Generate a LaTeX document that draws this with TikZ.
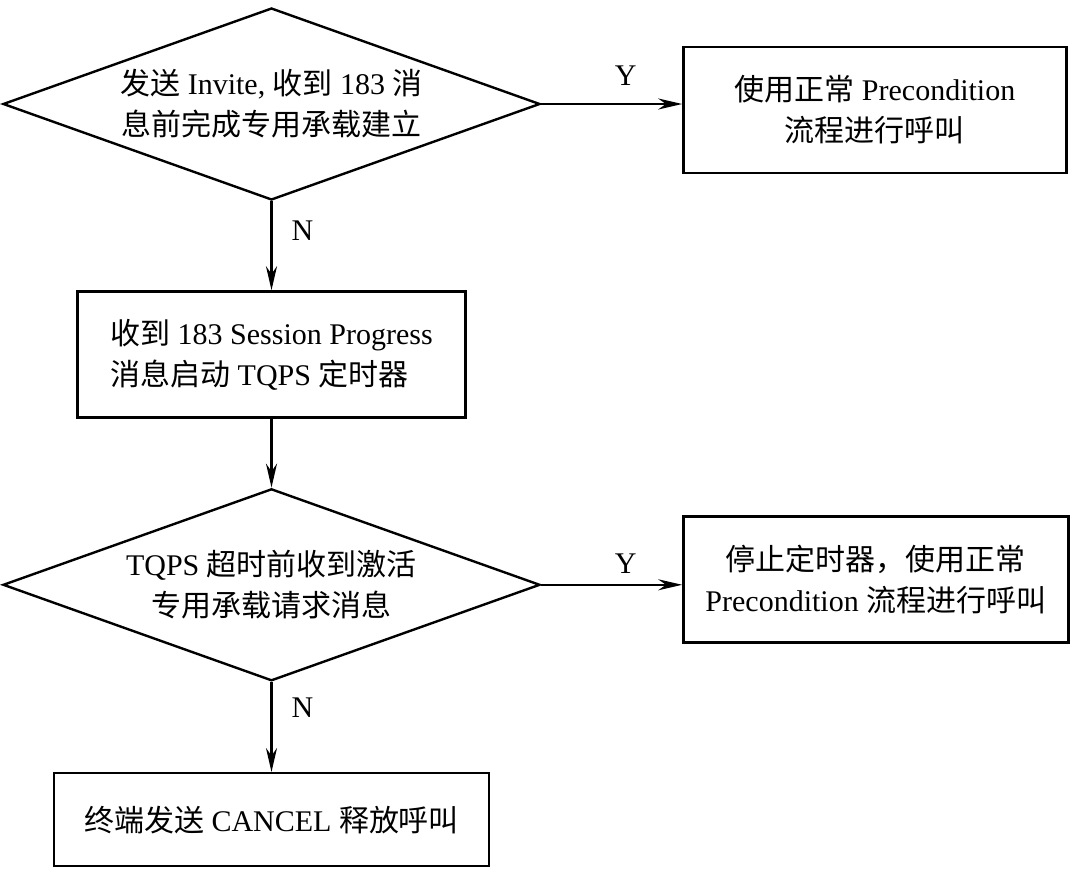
\documentclass[tikz,border=0pt]{standalone}
\usepackage{fontspec}
\setmainfont{Liberation Serif}
\newfontfamily\zhfont{Noto Sans CJK SC}
\newcommand{\zh}[1]{{\zhfont #1}}
\usetikzlibrary{shapes.geometric,arrows.meta,positioning}

\begin{document}
\begin{tikzpicture}[
    x=0.5pt, y=-0.5pt,
    font=\fontsize{15}{20.5}\selectfont,
    decision/.style={diamond, draw, line width=1.2pt, inner sep=0pt, aspect=2.8, minimum width=268.5pt, minimum height=96pt, align=center},
    block/.style={rectangle, draw, line width=1.2pt, align=center, minimum height=63pt},
    arrow/.style={-{Stealth[length=12pt, width=5.5pt]}, line width=1.2pt},
    lab/.style={inner sep=2pt}
]
    \useasboundingbox (0,0) rectangle (1078,878);

    \node [decision] (d1) at (271.5,104) {\zh{发送} Invite, \zh{收到} 183 \zh{消}\\\zh{息前完成专用承载建立}};
    \node [block, minimum width=191.5pt, right=70.5pt of d1, yshift=-3pt] (y1) {\zh{使用正常} Precondition\\\zh{流程进行呼叫}};
    \node [block, minimum width=194pt, below=44.5pt of d1, align=left] (b2) {\zh{收到} 183 Session Progress\\\zh{消息启动} TQPS \zh{定时器}};
    \node [decision, below=34.5pt of b2] (d2) {TQPS \zh{超时前收到激活}\\\zh{专用承载请求消息}};
    \node [block, minimum width=192.5pt, right=70.5pt of d2, yshift=2.75pt] (y2) {\zh{停止定时器，使用正常}\\Precondition \zh{流程进行呼叫}};
    \node [block, minimum width=217.5pt, minimum height=46.5pt, below=45pt of d2] (b3) {\zh{终端发送} CANCEL \zh{释放呼叫}};

    \draw [arrow] (d1.east) -- node [lab, pos=0.6, above=6.5pt] (ly1) {Y} (d1.east -| y1.west);
    \draw [arrow] (d1.south) -- node [lab, pos=0.33, right=7.5pt] (ln1) {N} (b2.north);
    \draw [arrow] (b2.south) -- (d2.north);
    \draw [arrow] (d2.east) -- node [lab, pos=0.6, above=3pt] (ly2) {Y} (d2.east -| y2.west);
    \draw [arrow] (d2.south) -- node [lab, pos=0.28, right=7.5pt] (ln2) {N} (b3.north);
\end{tikzpicture}
\end{document}
